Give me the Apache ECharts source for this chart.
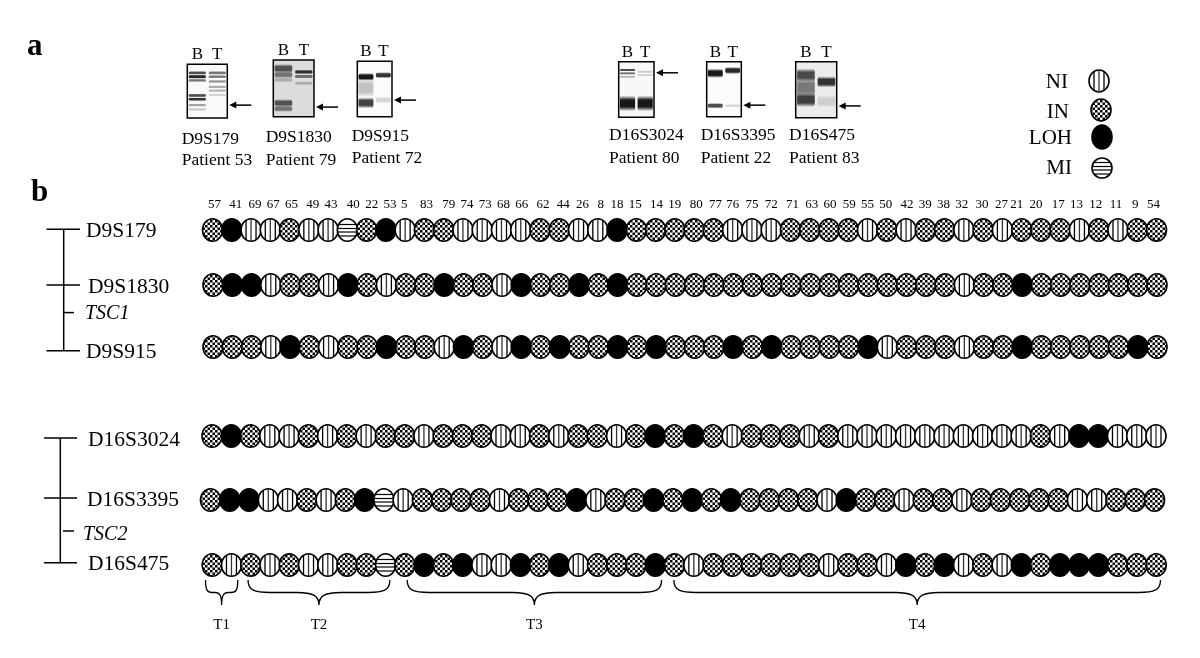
<!DOCTYPE html>
<html>
<head>
<meta charset="utf-8">
<style>
  html, body { margin: 0; padding: 0; background: #fff; }
  #chart { width: 1200px; height: 658px; }
</style>
<script src="https://cdn.jsdelivr.net/npm/echarts@6/dist/echarts.min.js"></script>
</head>
<body>
<div id="chart"></div>
<script>
const patients = ['57','41','69','67','65','49','43','40','22','53','5','83','79','74','73','68','66','62','44','26','8','18','15','14','19','80','77','76','75','72','71','63','60','59','55','50','42','39','38','32','30','27','21','20','17','13','12','11','9','54']

const kinds = ['NI', 'IN', 'LOH', 'MI']

const chr9Markers = ['D9S179', 'D9S1830', 'D9S915']
const chr16Markers = ['D16S3024', 'D16S3395', 'D16S475']

const D9S179 = ['IN','LOH','NI','NI','IN','NI','NI','MI','IN','LOH','NI','IN','IN','NI','NI','NI','NI','IN','IN','NI','NI','LOH','IN','IN','IN','IN','IN','NI','NI','NI','IN','IN','IN','IN','NI','IN','NI','IN','IN','NI','IN','NI','IN','IN','IN','NI','IN','NI','IN','IN']
const D9S1830 = ['IN','LOH','LOH','NI','IN','IN','NI','LOH','IN','NI','IN','IN','LOH','IN','IN','NI','LOH','IN','IN','LOH','IN','LOH','IN','IN','IN','IN','IN','IN','IN','IN','IN','IN','IN','IN','IN','IN','IN','IN','IN','NI','IN','IN','LOH','IN','IN','IN','IN','IN','IN','IN']
const D9S915 = ['IN','IN','IN','NI','LOH','IN','NI','IN','IN','LOH','IN','IN','NI','LOH','IN','NI','LOH','IN','LOH','IN','IN','LOH','IN','LOH','IN','IN','IN','LOH','IN','LOH','IN','IN','IN','IN','LOH','NI','IN','IN','IN','NI','IN','IN','LOH','IN','IN','IN','IN','IN','LOH','IN']
const D16S3024 = ['IN','LOH','IN','NI','NI','IN','NI','IN','NI','IN','IN','NI','IN','IN','IN','NI','NI','IN','NI','IN','IN','NI','IN','LOH','IN','LOH','IN','NI','IN','IN','IN','NI','IN','NI','NI','NI','NI','NI','NI','NI','NI','NI','NI','IN','NI','LOH','LOH','NI','NI','NI']
const D16S3395 = ['IN','LOH','LOH','NI','NI','IN','NI','IN','LOH','MI','NI','IN','IN','IN','IN','NI','IN','IN','IN','LOH','NI','IN','IN','LOH','IN','LOH','IN','LOH','IN','IN','IN','IN','NI','LOH','IN','IN','NI','IN','IN','NI','IN','IN','IN','IN','IN','NI','NI','IN','IN','IN']
const D16S475 = ['IN','NI','IN','NI','IN','NI','NI','IN','IN','MI','IN','LOH','IN','LOH','NI','NI','LOH','IN','LOH','NI','IN','IN','IN','LOH','IN','NI','IN','IN','IN','IN','IN','IN','NI','IN','IN','NI','LOH','IN','LOH','NI','IN','NI','LOH','IN','LOH','LOH','LOH','IN','IN','IN']

const tumourGroups = ['T1', 'T2', 'T3', 'T4']
const groupFirst = ['57', '69', '5', '19']
const groupLast = ['41', '53', '14', '54']

const genes = ['TSC1', 'TSC2']

const blotMarkers = ['D9S179', 'D9S1830', 'D9S915', 'D16S3024', 'D16S3395', 'D16S475']
const blotPatients = ['Patient 53', 'Patient 79', 'Patient 72', 'Patient 80', 'Patient 22', 'Patient 83']
const lanes = ['B', 'T']
// band = [lane, position down the gel in %, darkness, thickness in %]
const bands53 = [[0,16,.8,7],[0,23,.95,8],[0,30,.65,6],[0,58,.8,7],[0,65,.9,7],[0,76,.45,6],[0,84,.25,6],[1,16,.65,7],[1,23,.65,6],[1,32,.5,6],[1,42,.4,6],[1,49,.35,6],[1,57,.2,6]]
const bands79 = [[0,15,.75,16],[0,26,.6,12],[0,35,.3,9],[0,76,.75,14],[0,86,.6,11],[1,21,.9,8],[1,29,.65,7],[1,41,.3,7]]
const bands72 = [[0,28,1,14],[0,48,.3,34],[0,75,.85,20],[1,25,.9,11],[1,70,.2,12]]
const bands80 = [[0,15,.8,5],[0,21,.65,5],[0,27,.35,5],[0,75,1,28],[1,18,.25,5],[1,24,.2,5],[1,75,1,28]]
const bands22 = [[0,21,1,17],[0,80,.8,10],[1,16,.95,13],[1,80,.2,6]]
const bands83 = [[0,24,.8,24],[0,46,.6,34],[0,68,.85,26],[1,36,.9,20],[1,71,.18,22]]
const blotBands = [bands53, bands79, bands72, bands80, bands22, bands83]
const blotArrows = [76, 83, 70, 20, 79, 79]

// page layout
const FONT = '"Liberation Serif", "Times New Roman", serif'
const blotRects = [
  [187.3, 64.3, 40, 53.7], [273.3, 60, 40.7, 56.7], [357.3, 61.3, 34.7, 55.4],
  [618.7, 61.7, 35.3, 55.6], [706.7, 61.7, 34.6, 55], [795.7, 61.7, 41, 56],
]
const blotBg = ['#fafafa', '#dcdcdc', '#fbfbfb', '#f8f8f8', '#fcfcfc', '#ececec']
const captionPos = [[181.7, 139, 160.7], [265.7, 137.3, 160], [351.7, 136, 158], [609, 135.7, 158], [700.7, 135.7, 158], [789, 135.7, 158]]
const headerNudge = [2,4,4,3,2,4,3,6,5,4,-1,2,5,4,3,2,1,3,4,4,3,0,-1,1,0,2,2,0,0,0,2,2,1,1,0,-1,1,0,-1,-2,-1,-1,-5,-5,-2,-3,-3,-2,-2,-3]

const gridLeft = 202.87
const gridWidth = 963.27

const checker = document.createElement('canvas')
checker.width = 5
checker.height = 5
const cctx = checker.getContext('2d')
cctx.fillStyle = '#fff'
cctx.fillRect(0, 0, 5, 5)
cctx.fillStyle = '#000'
cctx.fillRect(0, 0, 2.5, 2.5)
cctx.fillRect(2.5, 2.5, 2.5, 2.5)

const markShapes = (kind, cx, cy, rx, ry) => {
  const stroke = { stroke: '#000', lineWidth: 1.6 }
  const fill = kind === 'LOH' ? '#000' : kind === 'IN' ? { image: checker, repeat: 'repeat' } : '#fff'
  const shapes = [{ type: 'ellipse', shape: { cx, cy, rx, ry }, style: { fill, ...stroke } }]
  if (kind === 'NI') {
    ;[-5, 0, 5].forEach((dx, i) => {
      const h = ry * Math.sqrt(1 - (dx * dx) / (rx * rx))
      shapes.push({
        type: 'line',
        shape: { x1: cx + dx, y1: cy - h, x2: cx + dx, y2: cy + h },
        style: { stroke: i === 1 ? '#333' : '#000', lineWidth: 1.3 },
      })
    })
  }
  if (kind === 'MI') {
    ;[-5.5, -1.5, 2, 6].forEach((dy) => {
      const w = rx * Math.sqrt(1 - (dy * dy) / (ry * ry))
      shapes.push({
        type: 'line',
        shape: { x1: cx - w, y1: cy + dy, x2: cx + w, y2: cy + dy },
        style: { stroke: '#000', lineWidth: 1.2 },
      })
    })
  }
  return shapes
}

const textStyle = (text, font, align) => ({
  text,
  font: font + ' ' + FONT,
  fill: '#000',
  align,
  verticalAlign: 'middle',
})

const rowSeries = (gridIndex, rows, rowDx, rowDy) => {
  const data = []
  rows.forEach((row, r) => {
    row.forEach((kind, c) => data.push([c, r, kinds.indexOf(kind)]))
  })
  return {
    type: 'custom',
    xAxisIndex: gridIndex,
    yAxisIndex: gridIndex,
    silent: true,
    data,
    encode: { x: 0, y: 1 },
    renderItem: (params, api) => {
      const r = api.value(1)
      const p = api.coord([api.value(0), r])
      return {
        type: 'group',
        children: markShapes(kinds[api.value(2)], p[0] + rowDx[r], p[1] + rowDy[r], 10, 11.3),
      }
    },
  }
}

// linkage map left of the rows: line, locus ticks, locus labels, gene tick
const mapSeries = (gridIndex, markers, gene, m) => ({
  type: 'custom',
  xAxisIndex: gridIndex,
  yAxisIndex: gridIndex,
  silent: true,
  data: markers.map((name, i) => [0, i]),
  encode: { x: 0, y: 1 },
  renderItem: (params, api) => {
    const i = api.value(1)
    const y = api.coord([0, i])[1] + m.dy[i]
    const line = { stroke: '#000', lineWidth: 1.5 }
    const children = [
      { type: 'line', shape: { x1: m.tickL, y1: y, x2: m.tickR, y2: y }, style: line },
      { type: 'text', x: m.labelX[i], y: y + 2, style: textStyle(markers[i], '21.5px', 'left') },
    ]
    if (i < markers.length - 1) {
      const next = api.coord([0, i + 1])[1] + m.dy[i + 1]
      children.push({ type: 'line', shape: { x1: m.lineX, y1: y, x2: m.lineX, y2: next }, style: line })
      if (i === 1) {
        const gy = y + (next - y) * m.geneAt
        children.push({ type: 'line', shape: { x1: m.geneL, y1: gy, x2: m.geneR, y2: gy }, style: line })
        children.push({ type: 'text', x: m.geneX, y: gy + m.geneDy, style: textStyle(gene, 'italic 20px', 'left') })
      }
    }
    return { type: 'group', children }
  },
})

const headerSeries = {
  type: 'custom',
  xAxisIndex: 6,
  yAxisIndex: 6,
  silent: true,
  data: patients.map((id, i) => [i, 0]),
  encode: { x: 0, y: 1 },
  renderItem: (params, api) => {
    const i = api.value(0)
    return {
      type: 'text',
      x: api.coord([i, 0])[0] + headerNudge[i],
      y: params.coordSys.y + 3.5,
      style: textStyle(patients[i], '13px', 'center'),
    }
  },
}

const braceNudge = [[-7, 6], [-3, 4], [2, 6], [-1, 4]]

const braceSeries = {
  type: 'custom',
  xAxisIndex: 7,
  yAxisIndex: 7,
  silent: true,
  data: tumourGroups.map((name, i) => [patients.indexOf(groupFirst[i]), 2, patients.indexOf(groupLast[i]), i]),
  encode: { x: 0, y: 1 },
  renderItem: (params, api) => {
    const i = api.value(3)
    const base = api.coord([api.value(0), 2])
    const x1 = base[0] + braceNudge[i][0]
    const x2 = api.coord([api.value(2), 2])[0] + braceNudge[i][1]
    const mid = (x1 + x2) / 2
    const top = base[1] + 15
    const bar = base[1] + 27.5
    const tip = base[1] + 40
    const r = Math.min(22, (mid - x1) * 0.4)
    const d = [
      `M${x1} ${top}`,
      `C${x1} ${bar - 2} ${x1 + r * 0.3} ${bar} ${x1 + r} ${bar}`,
      `L${mid - r} ${bar}`,
      `C${mid - r * 0.3} ${bar} ${mid} ${bar + 3} ${mid} ${tip}`,
      `C${mid} ${bar + 3} ${mid + r * 0.3} ${bar} ${mid + r} ${bar}`,
      `L${x2 - r} ${bar}`,
      `C${x2 - r * 0.3} ${bar} ${x2} ${bar - 2} ${x2} ${top}`,
    ].join(' ')
    return {
      type: 'group',
      children: [
        { type: 'path', shape: { pathData: d }, style: { fill: 'none', stroke: '#000', lineWidth: 1.3 } },
        { type: 'text', x: mid, y: base[1] + 60.5, style: textStyle(tumourGroups[i], '15px', 'center') },
      ],
    }
  },
}

const blotSeries = (bands, i) => ({
  type: 'custom',
  xAxisIndex: i,
  yAxisIndex: i,
  silent: true,
  clip: true,
  data: bands,
  encode: { x: 0, y: 1 },
  renderItem: (params, api) => {
    const p = api.coord([api.value(0), api.value(1)])
    const w = api.size([1, 0])[0] * 0.86
    const h = api.size([0, api.value(3)])[1]
    const grey = Math.round(60 * (1 - api.value(2)))
    const alpha = api.value(2)
    const c = (a) => `rgba(${grey},${grey},${grey},${a})`
    return {
      type: 'rect',
      shape: { x: p[0] - w / 2, y: p[1] - h / 2, width: w, height: h, r: 3 },
      style: {
        fill: {
          type: 'linear', x: 0, y: 0, x2: 0, y2: 1,
          colorStops: [
            { offset: 0, color: c(0) },
            { offset: 0.28, color: c(alpha * 0.9) },
            { offset: 0.72, color: c(alpha * 0.9) },
            { offset: 1, color: c(0) },
          ],
        },
      },
    }
  },
})

// arrow beside the gel pointing at the lost allele
const arrowSeries = (value, i) => ({
  type: 'custom',
  xAxisIndex: i,
  yAxisIndex: i,
  silent: true,
  data: [[1, value]],
  encode: { x: 0, y: 1 },
  renderItem: (params, api) => {
    const y = api.coord([1, api.value(1)])[1]
    const x = params.coordSys.x + params.coordSys.width + 2
    return {
      type: 'group',
      children: [
        { type: 'line', shape: { x1: x + 5, y1: y, x2: x + 22, y2: y }, style: { stroke: '#000', lineWidth: 1.5 } },
        { type: 'polygon', shape: { points: [[x, y], [x + 7, y - 3.5], [x + 7, y + 3.5]] }, style: { fill: '#000' } },
      ],
    }
  },
})

const textEl = (text, x, y, font, align = 'left') => ({
  type: 'text',
  x,
  y,
  silent: true,
  style: textStyle(text, font, align),
})

const legendRows = [
  [1068, 82, 1099, 81, 10, 11],
  [1069, 112, 1101, 110, 10, 11],
  [1072, 138, 1102, 137, 10, 12],
  [1072, 168, 1102, 168, 10, 10],
]

const graphicEls = [
  textEl('a', 27, 47, 'bold 31px'),
  textEl('b', 31, 193, 'bold 31px'),
]
blotMarkers.forEach((name, i) => {
  graphicEls.push(textEl(name, captionPos[i][0], captionPos[i][1], '17.5px'))
  graphicEls.push(textEl(blotPatients[i], captionPos[i][0], captionPos[i][2], '17.5px'))
})
kinds.forEach((kind, i) => {
  const l = legendRows[i]
  graphicEls.push(textEl(kind, l[0], l[1], '21px', 'right'))
  markShapes(kind, l[2], l[3], l[4], l[5]).forEach((el) => graphicEls.push({ ...el, silent: true }))
})

const blotGrids = blotRects.map((r, i) => ({
  left: r[0],
  top: r[1],
  width: r[2],
  height: r[3],
  show: true,
  backgroundColor: blotBg[i],
  borderColor: '#000',
  borderWidth: 1.5,
}))

const option = {
  animation: false,
  backgroundColor: '#fff',
  grid: [
    ...blotGrids,
    { left: gridLeft, top: 200.75, width: gridWidth, height: 175.5 },
    { left: gridLeft, top: 403.75, width: gridWidth, height: 193.5 },
  ],
  xAxis: [
    ...blotRects.map((r, i) => ({
      type: 'category',
      gridIndex: i,
      position: 'top',
      data: lanes,
      axisLine: { show: false },
      axisTick: { show: false },
      axisLabel: { fontFamily: FONT, fontSize: 17, color: '#000', margin: 1 },
    })),
    { type: 'category', gridIndex: 6, data: patients, show: false },
    { type: 'category', gridIndex: 7, data: patients, show: false },
  ],
  yAxis: [
    ...blotRects.map((r, i) => ({ type: 'value', gridIndex: i, min: 0, max: 100, inverse: true, show: false })),
    { type: 'category', gridIndex: 6, data: chr9Markers, inverse: true, show: false },
    { type: 'category', gridIndex: 7, data: chr16Markers, inverse: true, show: false },
  ],
  graphic: { elements: graphicEls },
  series: [
    ...blotBands.map(blotSeries),
    ...blotArrows.map(arrowSeries),
    headerSeries,
    rowSeries(6, [D9S179, D9S1830, D9S915], [0, 0.5, 0.5], [0, -3.5, 0]),
    rowSeries(7, [D16S3024, D16S3395, D16S475], [-0.5, -2, -0.3], [0, -0.5, 0]),
    mapSeries(6, chr9Markers, genes[0], {
      dy: [-0.7, -3.5, 3.7], labelX: [86, 88, 86], lineX: 63.7, tickL: 46.5, tickR: 80,
      geneAt: 0.42, geneL: 63.7, geneR: 74, geneX: 85, geneDy: 1,
    }),
    mapSeries(7, chr16Markers, genes[1], {
      dy: [2, -2.5, -2.3], labelX: [88, 87, 88], lineX: 60.3, tickL: 44, tickR: 77,
      geneAt: 0.51, geneL: 63, geneR: 74, geneX: 83, geneDy: 4,
    }),
    braceSeries,
  ],
}

const chart = echarts.init(document.getElementById('chart'))
chart.setOption(option)
window.addEventListener('resize', () => chart.resize())
</script>
</body>
</html>
